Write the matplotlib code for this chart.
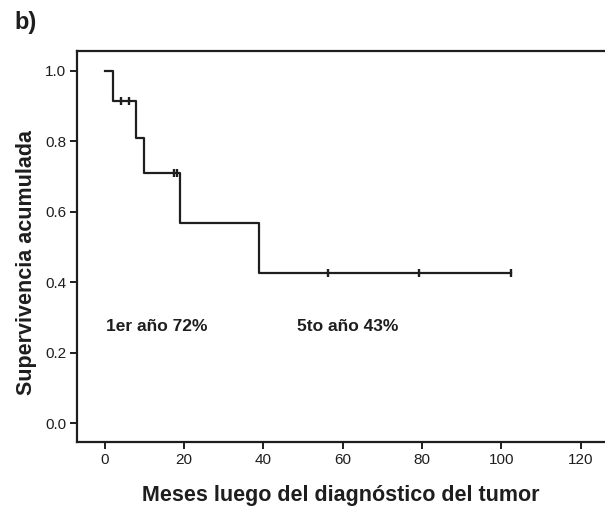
import matplotlib
matplotlib.use("Agg")
import matplotlib.pyplot as plt

plt.rcParams['font.family'] = ['Liberation Sans', 'DejaVu Sans']

# Kaplan-Meier step data
step_times = [0, 2.0, 7.9, 9.95, 19.1, 38.9, 102.4]
step_surv = [1.0, 0.915, 0.81, 0.71, 0.568, 0.425, 0.425]
cens_times = [4.2, 6.2, 17.4, 18.1, 56.3, 79.3, 102.4]
cens_surv = [0.915, 0.915, 0.71, 0.71, 0.425, 0.425, 0.425]

xticks = [0, 20, 40, 60, 80, 100, 120]
yticks = [0.0, 0.2, 0.4, 0.6, 0.8, 1.0]
annotations = [(0.3, 0.274, "1er año 72%"), (48.5, 0.274, "5to año 43%")]

col = '#1e1e1e'
fig = plt.figure(figsize=(6.05, 5.07), dpi=100)
ax = fig.add_axes([0.1278, 0.1276, 1.0 - 0.1278, 0.9 - 0.1276])

ax.step(step_times, step_surv, where='post', color=col, lw=1.6)
ax.plot(cens_times, cens_surv, linestyle='none', marker='|', markersize=6,
        markeredgewidth=1.7, color=col)

ax.set_xlim(-6.9, 126.1)
ax.set_ylim(-0.054, 1.057)
ax.set_xticks(xticks)
ax.set_xticklabels([str(t) for t in xticks])
ax.set_yticks(yticks)
ax.set_yticklabels([f"{t:.1f}" for t in yticks])

for s in ['left', 'bottom', 'top']:
    ax.spines[s].set_linewidth(1.6)
    ax.spines[s].set_color(col)
ax.spines['right'].set_visible(False)
ax.tick_params(direction='out', length=5, width=1.4, colors=col,
               labelsize=11, pad=3)

for x, y, t in annotations:
    ax.text(x, y, t, fontsize=12.5, fontweight='bold', color=col,
            ha='left', va='center')

ax.set_xlabel("Meses luego del diagnóstico del tumor", fontsize=15.5,
              fontweight='bold', color=col)
ax.xaxis.set_label_coords(0.5, -0.11)
ax.set_ylabel("Supervivencia acumulada", fontsize=15.5,
              fontweight='bold', color=col)
ax.yaxis.set_label_coords(-0.077, 0.46)

fig.text(14 / 605, 1 - 23 / 507, "b)", fontsize=17, fontweight='bold',
         color=col, ha='left', va='center')

fig.savefig("out.png", dpi=100)
